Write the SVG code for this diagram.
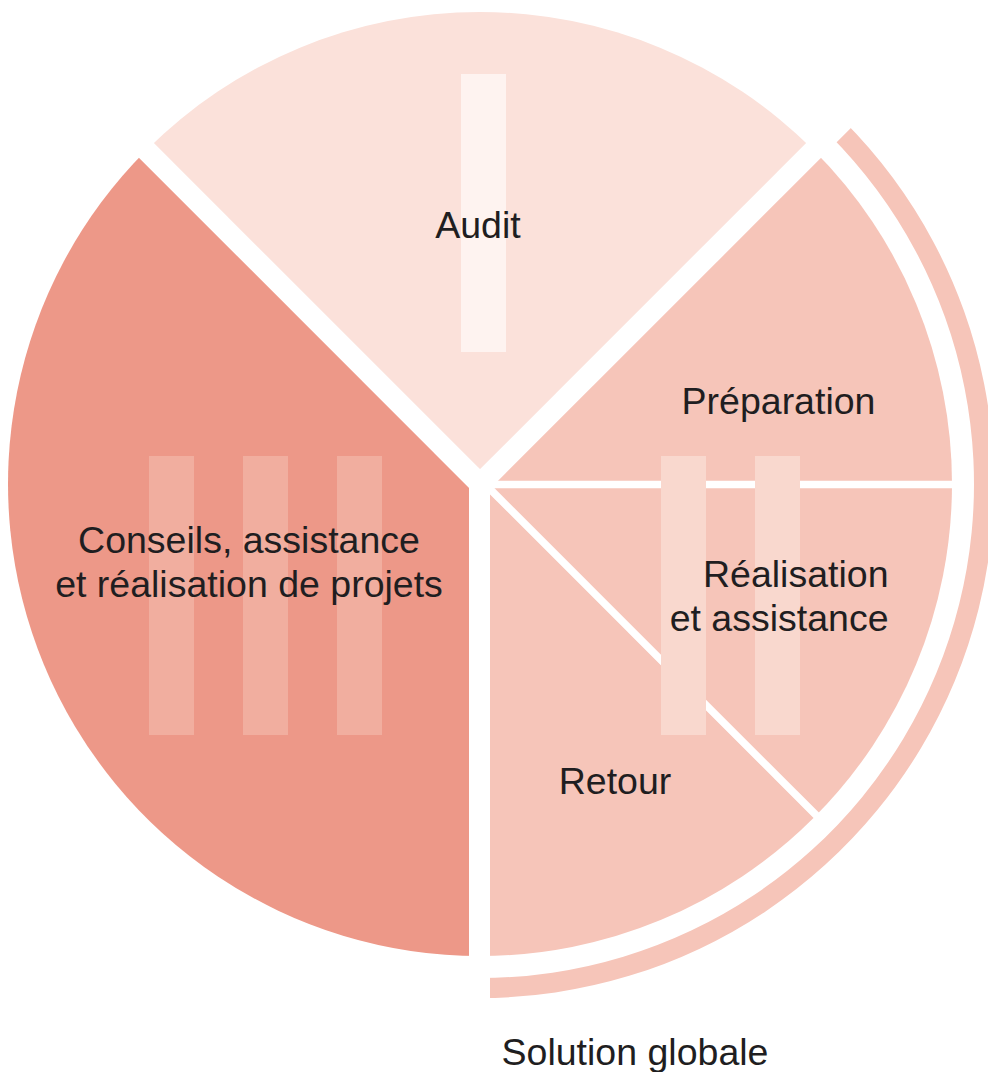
<svg xmlns="http://www.w3.org/2000/svg" width="988" height="1072" viewBox="0 0 988 1072">
  <style>
    .lbl { font-family: "Liberation Sans", Arial, Helvetica, sans-serif; font-size: 37.5px; fill: #1f1e21; }
    .mid { text-anchor: middle; }
    .end { text-anchor: end; }
    .gap { stroke: #ffffff; fill: none; stroke-linecap: butt; }
    .thick { stroke-width: 21; }
    .thin { stroke-width: 7.5; }
    .c-audit { fill: #FBE1DA; }
    .c-cons { fill: #ED9888; }
    .c-right { fill: #F6C5B9; }
    .b-audit { fill: #FEF3F0; }
    .b-cons { fill: #F1AE9F; }
    .b-right { fill: #F9D8CE; }
  </style>
  <rect width="988" height="1072" fill="#ffffff"/>

  <g id="audit">
    <path class="c-audit" d="M480 484 L146.25 150.25 A472 472 0 0 1 813.75 150.25 Z"/>
  </g>
  <g id="preparation">
    <path class="c-right" d="M480 484 L813.75 150.25 A472 472 0 0 1 952 484 Z"/>
  </g>
  <g id="realisation">
    <path class="c-right" d="M480 484 L952 484 A472 472 0 0 1 813.75 817.75 Z"/>
  </g>
  <g id="retour">
    <path class="c-right" d="M480 484 L813.75 817.75 A472 472 0 0 1 480 956 Z"/>
  </g>
  <g id="conseils">
    <path class="c-cons" d="M480 484 L480 956 A472 472 0 0 1 146.25 150.25 Z"/>
  </g>
  <g id="solution-globale-arc">
    <path class="c-right" d="M843.45 120.55 A514 514 0 0 1 480 998 L480 978 A494 494 0 0 0 829.31 134.69 Z"/>
  </g>

  <g id="connectors">
    <line class="gap thick" x1="480" y1="484" x2="98" y2="102"/>
    <line class="gap thick" x1="480" y1="484" x2="862" y2="102"/>
    <line class="gap thick" x1="479.5" y1="484" x2="479.5" y2="1020"/>
    <circle cx="480" cy="484" r="10.5" fill="#ffffff"/>
    <line class="gap thin" x1="486" y1="484.5" x2="957" y2="484.5"/>
    <line class="gap thin" x1="486" y1="485" x2="828" y2="827"/>
  </g>

  <g id="bars">
    <rect class="b-audit" x="461" y="74" width="45" height="278"/>
    <rect class="b-cons" x="149" y="456" width="45" height="279"/>
    <rect class="b-cons" x="243" y="456" width="45" height="279"/>
    <rect class="b-cons" x="337" y="456" width="45" height="279"/>
    <rect class="b-right" x="661" y="456" width="45" height="279"/>
    <rect class="b-right" x="755" y="456" width="45" height="279"/>
  </g>

  <g id="labels">
    <text class="lbl mid" x="478" y="238">Audit</text>
    <text class="lbl mid" x="778.5" y="414">Préparation</text>
    <text class="lbl end" x="888.5" y="587">Réalisation</text>
    <text class="lbl end" x="888.5" y="631">et assistance</text>
    <text class="lbl mid" x="249" y="553">Conseils, assistance</text>
    <text class="lbl mid" x="249" y="597">et réalisation de projets</text>
    <text class="lbl mid" x="615" y="794">Retour</text>
    <text class="lbl mid" x="635" y="1065">Solution globale</text>
  </g>
</svg>
